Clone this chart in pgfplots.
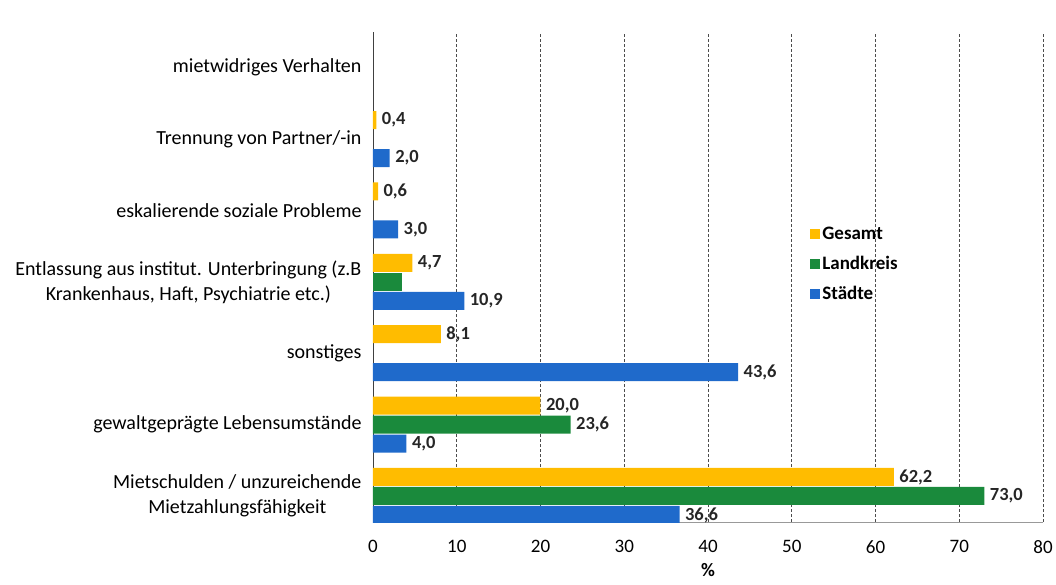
\documentclass[border=0pt]{standalone}
\usepackage{fontspec}
\setmainfont{Carlito}
\usepackage{pgfplots}
\pgfplotsset{compat=1.18}
\usepackage{pgfplotstable}

\definecolor{gesamt}{HTML}{FFBC00}
\definecolor{land}{HTML}{1A8A3C}
\definecolor{stadt}{HTML}{1F6ACB}

% y: 0 = Mietschulden ... 6 = mietwidriges Verhalten
\pgfplotstableread{
y x lab
0 62.2 62,2
1 20.0 20,0
2 8.1 8,1
3 4.7 4,7
4 0.6 0,6
5 0.4 0,4
}\gesamt
\pgfplotstableread{
y x lab
0 73.0 73,0
1 23.6 23,6
}\landkreis
\pgfplotstableread{
y x lab
0 36.6 36,6
1 4.0 4,0
2 43.6 43,6
3 10.9 10,9
4 3.0 3,0
5 2.0 2,0
}\staedte

\begin{document}
\begin{tikzpicture}
\useasboundingbox (-373pt,-62pt) rectangle (683pt,522pt);
\begin{axis}[
    scale only axis,
    width=670pt, height=490pt,
    xbar, bar width=18pt,
    xmin=0, xmax=80,
    ymin=-0.365, ymax=6.5,
    xtick={0,10,...,80},
    ytick={0,...,6},
    yticklabels={{Mietschulden / unzureichende\\Mietzahlungsfähigkeit},
        gewaltgeprägte Lebensumstände, sonstiges,
        {Entlassung aus institut. Unterbringung (z.B\\Krankenhaus, Haft, Psychiatrie etc.)},
        eskalierende soziale Probleme, Trennung von Partner/-in,
        mietwidriges Verhalten},
    yticklabel style={align=center, font=\fontsize{20}{25}\selectfont, xshift=-8pt},
    xticklabel style={font=\fontsize{19}{22}\selectfont, yshift=-17pt, inner sep=1pt},
    /pgf/number format/assume math mode=true,
    xlabel={\textbf{\%}},
    xlabel style={font=\fontsize{19}{22}\selectfont, inner sep=0pt,
        at={(axis description cs:0.5,0)}, anchor=north, yshift=-41pt},
    axis x line=bottom, axis y line=left,
    x axis line style={-, black!40, line width=0.8pt},
    y axis line style={-, black!75, line width=0.8pt},
    major tick length=0pt,
    xmajorgrids, grid style={densely dashed, black!70, line width=0.7pt},
    point meta=explicit symbolic,
    nodes near coords,
    nodes near coords style={font=\fontsize{18.5}{20}\selectfont\bfseries, black!85, anchor=west, xshift=2pt},
    legend style={draw=none, fill=none, at={(0.648,0.61)}, anchor=north west,
        font=\fontsize{19}{22}\selectfont\bfseries, row sep=11pt},
    legend cell align=left,
    legend image code/.code={\fill (0pt,-5pt) rectangle (10pt,5pt);},
]
\addplot[fill=gesamt, draw=none, bar shift=19pt] table[x=x, y=y, meta=lab] {\gesamt};
\addplot[fill=land, draw=none, bar shift=0pt] table[x=x, y=y, meta=lab] {\landkreis};
\addplot[fill=stadt, draw=none, bar shift=-19pt] table[x=x, y=y, meta=lab] {\staedte};
\addplot[fill=land, draw=none, bar shift=0pt, nodes near coords={}, forget plot] coordinates {(3.5,3)};
\legend{Gesamt, Landkreis, Städte}
\end{axis}
\end{tikzpicture}
\end{document}
